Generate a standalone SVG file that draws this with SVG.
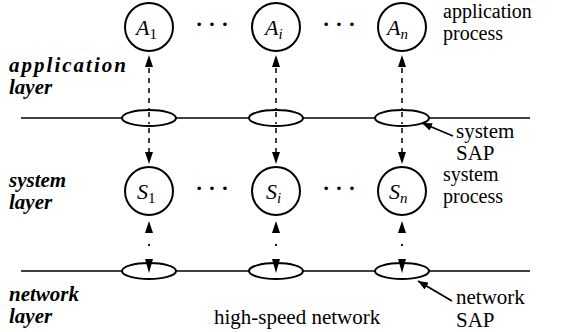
<svg xmlns="http://www.w3.org/2000/svg" width="561" height="332" viewBox="0 0 561 332">
  <style>
    .proc { fill: #fff; stroke: #000; stroke-width: 2; }
    .sap { fill: #fff; stroke: #000; stroke-width: 2; }
    .bus { stroke: #000; stroke-width: 1.4; fill: none; }
    .dash { stroke: #000; stroke-width: 1.5; stroke-dasharray: 5 5; fill: none; }
    .dot { stroke: #000; stroke-width: 1.8; fill: none; }
    .head { fill: #000; stroke: none; }
    .ptr { stroke: #000; stroke-width: 1.8; fill: none; }
    text { font-family: 'Liberation Serif', 'DejaVu Serif', serif; fill: #000; }
    .lbl { font-size: 21px; }
    .tight { font-size: 20px; }
    .layer { font-size: 21px; font-weight: bold; font-style: italic; }
    .math { font-size: 22px; font-style: italic; }
    .sub { font-size: 15px; font-style: normal; }
    .isub { font-size: 15px; font-style: italic; }
    .ell { font-size: 22px; font-weight: bold; }
  </style>
  <defs>
    <marker id="tip" viewBox="0 0 10 8" refX="10" refY="4" markerWidth="10" markerHeight="8" markerUnits="userSpaceOnUse" orient="auto">
      <path d="M0,0 L10,4 L0,8 z" fill="#000"/>
    </marker>
  </defs>

  <!-- layer buses -->
  <g id="buses">
    <line class="bus" x1="21" y1="118" x2="530" y2="118"/>
    <line class="bus" x1="21" y1="271" x2="530" y2="271"/>
  </g>

  <!-- connectors between processes and access points -->
  <g id="connectors">
    <!-- column 1 -->
    <polygon class="head" points="149,55 145,67 153,67"/>
    <line class="dash" x1="149" y1="68" x2="149" y2="152"/>
    <polygon class="head" points="149,164 145,152 153,152"/>
    <polygon class="head" points="149,221 145,233 153,233"/>
    <line class="dot" x1="149" y1="244" x2="149" y2="246"/>
    <!-- column i -->
    <polygon class="head" points="276,55 272,67 280,67"/>
    <line class="dash" x1="276" y1="68" x2="276" y2="152"/>
    <polygon class="head" points="276,164 272,152 280,152"/>
    <polygon class="head" points="276,221 272,233 280,233"/>
    <line class="dot" x1="276" y1="244" x2="276" y2="246"/>
    <!-- column n -->
    <polygon class="head" points="402,55 398,67 406,67"/>
    <line class="dash" x1="402" y1="68" x2="402" y2="152"/>
    <polygon class="head" points="402,164 398,152 406,152"/>
    <polygon class="head" points="402,221 398,233 406,233"/>
    <line class="dot" x1="402" y1="244" x2="402" y2="246"/>
    <!-- SAP pointers -->
    <line class="ptr" x1="453" y1="136" x2="422" y2="123" marker-end="url(#tip)"/>
    <line class="ptr" x1="452" y1="301" x2="418" y2="281" marker-end="url(#tip)"/>
  </g>

  <!-- application processes -->
  <g id="A1">
    <circle class="proc" cx="149" cy="27" r="24"/>
    <text class="math" x="136" y="35">A<tspan class="sub" dy="4">1</tspan></text>
  </g>
  <g id="Ai">
    <circle class="proc" cx="276" cy="27" r="24"/>
    <text class="math" x="265" y="35">A<tspan class="isub" dy="4">i</tspan></text>
  </g>
  <g id="An">
    <circle class="proc" cx="402" cy="27" r="24"/>
    <text class="math" x="387" y="35">A<tspan class="isub" dy="4">n</tspan></text>
  </g>

  <!-- system access points -->
  <g id="sap-sys-1"><ellipse class="sap" cx="149" cy="118" rx="27" ry="8"/><line class="dash" x1="149" y1="112" x2="149" y2="124"/></g>
  <g id="sap-sys-i"><ellipse class="sap" cx="276" cy="118" rx="27" ry="8"/><line class="dash" x1="276" y1="112" x2="276" y2="124"/></g>
  <g id="sap-sys-n"><ellipse class="sap" cx="402" cy="118" rx="27" ry="8"/><line class="dash" x1="402" y1="112" x2="402" y2="124"/></g>

  <!-- system processes -->
  <g id="S1">
    <circle class="proc" cx="149" cy="191" r="24"/>
    <text class="math" x="137" y="199">S<tspan class="sub" dy="4">1</tspan></text>
  </g>
  <g id="Si">
    <circle class="proc" cx="276" cy="191" r="24"/>
    <text class="math" x="266" y="199">S<tspan class="isub" dy="4">i</tspan></text>
  </g>
  <g id="Sn">
    <circle class="proc" cx="402" cy="191" r="24"/>
    <text class="math" x="389" y="199">S<tspan class="isub" dy="4">n</tspan></text>
  </g>

  <!-- network access points, with the incoming arrowhead on top -->
  <g id="sap-net-1"><ellipse class="sap" cx="149" cy="271" rx="27" ry="8"/><polygon class="head" points="149,273 145,259 153,259"/></g>
  <g id="sap-net-i"><ellipse class="sap" cx="276" cy="271" rx="27" ry="8"/><polygon class="head" points="276,273 272,259 280,259"/></g>
  <g id="sap-net-n"><ellipse class="sap" cx="402" cy="271" rx="27" ry="8"/><polygon class="head" points="402,273 398,259 406,259"/></g>

  <!-- ellipsis dots between columns -->
  <g id="ellipses">
    <text class="ell" x="212" y="31" text-anchor="middle">· · ·</text>
    <text class="ell" x="339" y="31" text-anchor="middle">· · ·</text>
    <text class="ell" x="212" y="195" text-anchor="middle">· · ·</text>
    <text class="ell" x="339" y="195" text-anchor="middle">· · ·</text>
  </g>

  <!-- layer names -->
  <g id="layer-labels">
    <text class="layer" x="9" y="72" textLength="117">application</text>
    <text class="layer" x="9" y="94">layer</text>
    <text class="layer" x="9" y="187">system</text>
    <text class="layer" x="9" y="209">layer</text>
    <text class="layer" x="9" y="301">network</text>
    <text class="layer" x="9" y="323">layer</text>
  </g>

  <!-- annotations -->
  <g id="annotations">
    <text class="tight" x="443" y="18">application</text>
    <text class="tight" x="443" y="40">process</text>
    <text class="lbl" x="456" y="138">system</text>
    <text class="lbl" x="456" y="160">SAP</text>
    <text class="tight" x="443" y="181">system</text>
    <text class="tight" x="443" y="203">process</text>
    <text class="lbl" x="456" y="304">network</text>
    <text class="lbl" x="456" y="327">SAP</text>
    <text class="lbl" x="214" y="324">high-speed network</text>
  </g>
</svg>
